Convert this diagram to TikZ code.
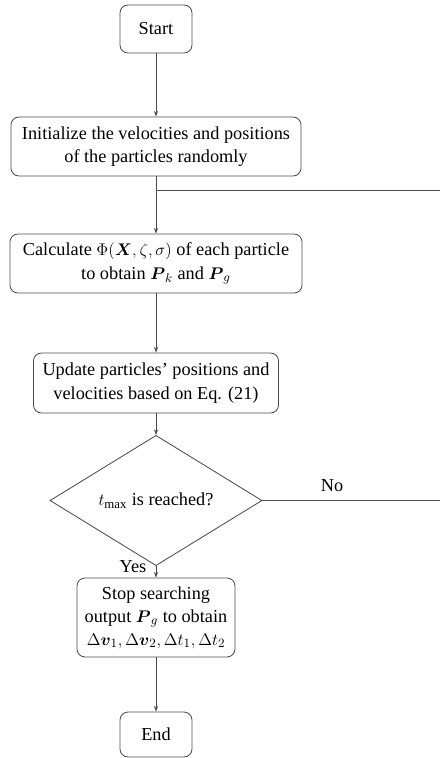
\documentclass[tikz,border=0pt]{standalone}
\usepackage{amsmath}
\usepackage{fontspec}
\setmainfont{Liberation Serif}
\usetikzlibrary{positioning,shapes.geometric,arrows.meta}

\begin{document}
\begin{tikzpicture}[x=0.025cm,y=-0.025cm]
\tikzstyle{every node}+=[font=\fontsize{13}{16.5}\selectfont]
\tikzstyle{proc}=[draw=black!70,rounded corners=0.2cm,align=center,inner sep=0pt,line width=0.6pt]
\tikzstyle{test}=[draw=black!70,diamond,inner sep=0pt,line width=0.6pt]
\tikzstyle{flow}=[draw=black!70,line width=0.6pt,-{Stealth[length=4pt,width=3pt]}]
\tikzstyle{link}=[draw=black!70,line width=0.6pt]
\clip (0,0) rectangle (440,758);
% boxes
\node [proc,minimum width=1.8cm,minimum height=1.2cm] (start) at (156,29) {Start};
\node [proc,minimum width=7.25cm,minimum height=1.475cm] (init) at (156,146.5)
  {Initialize the velocities and positions\\of the particles randomly};
\node [proc,minimum width=7.3cm,minimum height=1.475cm] (calc) at (156,263.5)
  {Calculate $\Phi(\boldsymbol{X},\zeta,\sigma)$ of each particle\\to obtain $\boldsymbol{P}_k$ and $\boldsymbol{P}_g$};
\node [proc,minimum width=6.125cm,minimum height=1.5cm] (update) at (156,383)
  {Update particles’ positions and\\velocities based on Eq. (21)};
\node [test,minimum width=5.3cm,minimum height=2.625cm] (reach) at (156,500.5)
  {$t_{\max}$ is reached?};
\node [proc,minimum width=3.95cm,minimum height=1.975cm] (stop) at (156,617.5)
  {Stop searching\\output $\boldsymbol{P}_g$ to obtain\\$\Delta\boldsymbol{v}_1,\Delta\boldsymbol{v}_2,\Delta t_1,\Delta t_2$};
\node [proc,minimum width=1.8cm,minimum height=1.125cm] (end) at (156,734.5) {End};
% loop back
\coordinate (join) at (156,190);
\coordinate (backtop) at (452,190);
\coordinate (backlow) at (452,500.5);
% connectors
\draw [flow] (start) -- (init);
\draw [flow] (init) -- (calc);
\draw [flow] (calc) -- (update);
\draw [flow] (update) -- (reach);
\draw [flow] (reach) -- (stop);
\draw [flow] (stop) -- (end);
\draw [link] (reach.east) -- (backlow) -- (backtop) -- (join);
\node (no) at (332,486) {No};
\node (yes) at (133,567) {Yes};
\end{tikzpicture}
\end{document}
